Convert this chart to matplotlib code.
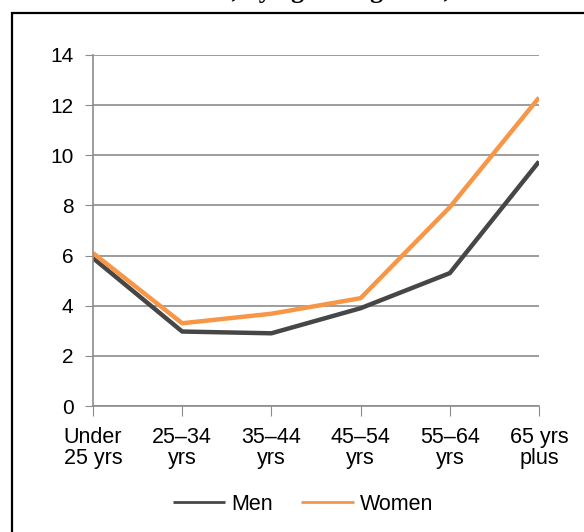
import matplotlib.pyplot as plt
from matplotlib.patches import Rectangle

categories = ["Under\n25 yrs", "25\u201334\nyrs", "35\u201344\nyrs", "45\u201354\nyrs", "55\u201364\nyrs", "65 yrs\nplus"]
men = [5.9, 2.97, 2.9, 3.9, 5.3, 9.75]
women = [6.1, 3.3, 3.68, 4.3, 7.93, 12.3]
yticks = [0, 2, 4, 6, 8, 10, 12, 14]

plt.rcParams['font.family'] = ['Liberation Sans', 'DejaVu Sans']

W, H = 584, 532
fig = plt.figure(figsize=(W / 100, H / 100), dpi=100)

# outer frame, cut off on right and bottom
fig.patches.append(Rectangle((12 / W, -0.1), 1.2, 1 - 13 / H + 0.1, transform=fig.transFigure,
                             fill=False, edgecolor='black', linewidth=1.6))

# title, mostly cut off by the top edge (only descenders show)
fig.text(170 / W, 1 + 2 / H, "Rates, by age and gender, 2012", ha='left', va='baseline',
         fontsize=18.5, fontweight='bold', family=['Liberation Serif'])

ax = fig.add_axes([93 / W, 1 - 406 / H, (539 - 93) / W, (406 - 55) / H])
x = list(range(len(categories)))
ax.plot(x, men, color='#464646', linewidth=3.2, label='Men', solid_capstyle='butt')
ax.plot(x, women, color='#f79646', linewidth=3.2, label='Women', solid_capstyle='butt')

ax.set_xlim(0, len(categories) - 1)
ax.set_ylim(0, 14)
ax.set_yticks(yticks)
ax.set_xticks(x)
ax.set_xticklabels(categories, fontsize=15.5, linespacing=1.0)
ax.tick_params(axis='y', labelsize=15, length=6, color='#8c8c8c', pad=8)
ax.tick_params(axis='x', length=7, color='#8c8c8c', pad=8)
ax.grid(axis='y', color='#8c8c8c', linewidth=1.2)
ax.set_axisbelow(True)
for s in ['top', 'right']:
    ax.spines[s].set_visible(False)
for s in ['left', 'bottom']:
    ax.spines[s].set_color('#8c8c8c')
    ax.spines[s].set_linewidth(1.2)

leg = fig.legend(loc='center', bbox_to_anchor=(303 / W, 1 - 504 / H), ncol=2, frameon=False,
                 fontsize=15.5, handlelength=2.45, columnspacing=1.3, handletextpad=0.28,
                 borderpad=0, borderaxespad=0)
for line in leg.get_lines():
    line.set_linewidth(2)

fig.savefig('out.png', dpi=100)
